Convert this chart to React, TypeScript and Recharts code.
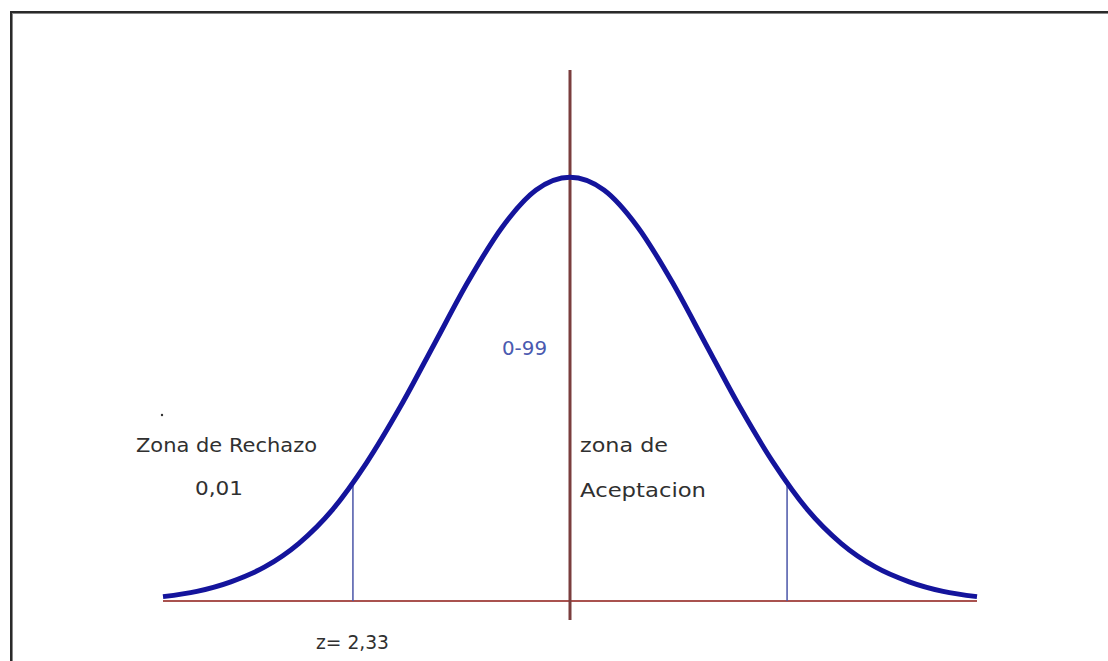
import { LineChart, Line, XAxis, YAxis, ReferenceLine } from 'recharts';

// z values of the standard normal curve and the heights
const zValues = [
  -3, -2.75, -2.5, -2.25, -2, -1.75, -1.5, -1.25, -1, -0.75, -0.5, -0.25,
  0, 0.25, 0.5, 0.75, 1, 1.25, 1.5, 1.75, 2, 2.25, 2.5, 2.75, 3,
];
const density = [
  0.004, 0.009, 0.018, 0.032, 0.054, 0.086, 0.13, 0.183, 0.242, 0.301, 0.352, 0.387,
  0.399, 0.387, 0.352, 0.301, 0.242, 0.183, 0.13, 0.086, 0.054, 0.032, 0.018, 0.009, 0.004,
];

// thin markers where the tails begin
const cutoffs = [-1.6, 1.6];
const cutoffHeights = [0.111, 0.111];

const data = zValues.map((z, i) => ({ z, y: density[i] }));

const W = 1108;
const H = 661;
const font = '"DejaVu Sans", Verdana, sans-serif';

export default function App() {
  return (
    <div style={{ position: 'absolute', left: 0, top: 0, width: W, height: H, overflow: 'hidden', background: '#fff' }}>
      <div
        style={{
          position: 'absolute', left: 10, top: 11, width: 1200, height: 800,
          border: '2px solid #2a2a2a', boxShadow: 'inset 1px 1px 0 #888',
        }}
      />
      <div style={{ position: 'absolute', left: 0, top: 0 }}>
        <LineChart width={W} height={H} data={data} margin={{ top: 70, right: 131, bottom: 41, left: 163 }}>
          <XAxis dataKey="z" type="number" domain={[-3, 3]} hide />
          <YAxis type="number" domain={[-0.018, 0.5]} hide />
          <ReferenceLine
            segment={[{ x: -3, y: 0 }, { x: 3, y: 0 }]}
            stroke="#a9524f"
            strokeWidth={2}
          />
          {cutoffs.map((c, i) => (
            <ReferenceLine
              key={c}
              segment={[{ x: c, y: 0 }, { x: c, y: cutoffHeights[i] }]}
              stroke="#4a55a8"
              strokeWidth={1.5}
            />
          ))}
          <ReferenceLine x={0} stroke="#7a3e3e" strokeWidth={3} />
          <Line
            type="monotone"
            dataKey="y"
            stroke="#14149c"
            strokeWidth={5}
            dot={false}
            isAnimationActive={false}
          />
        </LineChart>
      </div>
      <svg width={W} height={H} style={{ position: 'absolute', left: 0, top: 0 }}>
        <g fontFamily={font} fontSize={20} fill="#303030" lengthAdjust="spacingAndGlyphs">
          <text x={136} y={452} textLength={181} lengthAdjust="spacingAndGlyphs">Zona de Rechazo</text>
          <text x={195} y={495} textLength={48} lengthAdjust="spacingAndGlyphs">0,01</text>
          <text x={580} y={452} textLength={88} lengthAdjust="spacingAndGlyphs">zona de</text>
          <text x={580} y={497} textLength={126} lengthAdjust="spacingAndGlyphs">Aceptacion</text>
          <text x={316} y={649} textLength={73} lengthAdjust="spacingAndGlyphs">z= 2,33</text>
          <text x={502} y={355} textLength={45} lengthAdjust="spacingAndGlyphs" fill="#4a5ab0">0-99</text>
        </g>
        <circle cx={162} cy={415} r={1.2} fill="#333" />
      </svg>
    </div>
  );
}
